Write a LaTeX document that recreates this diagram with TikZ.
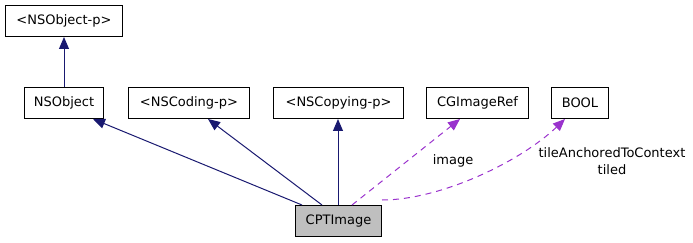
\documentclass[tikz,border=0pt]{standalone}
\usepackage{fontspec}
\setmainfont{DejaVu Sans}
\usetikzlibrary{arrows.meta}
\definecolor{edgeblue}{HTML}{191970}
\definecolor{edgepurple}{HTML}{9A32CD}
\definecolor{boxgray}{HTML}{BFBFBF}
\begin{document}
\begin{tikzpicture}[x=1pt,y=-1pt,
  txt/.style={font=\fontsize{13}{17.5}\selectfont},
  cls/.style={txt,draw=black,line width=1pt,fill=white,minimum height=31pt,inner sep=0pt,anchor=north west},
  inherit/.style={draw=edgeblue,line width=1pt,-{Triangle[length=12pt,width=10pt]}},
  uses/.style={draw=edgepurple,line width=1pt,dash pattern=on 6pt off 5pt,-{Triangle[length=12pt,width=10pt]}},
  lbl/.style={txt,align=center,inner sep=0pt}]
\useasboundingbox (0,0) rectangle (693,243);
\node[cls,minimum width=117pt] (nsobjp) at (5,5) {<NSObject-p>};
\node[cls,minimum width=79pt] (nsobj) at (24,87) {NSObject};
\node[cls,minimum width=121pt] (coding) at (128,87) {<NSCoding-p>};
\node[cls,minimum width=130pt] (copying) at (273,87) {<NSCopying-p>};
\node[cls,minimum width=102pt] (cgimg) at (426,87) {CGImageRef};
\node[cls,minimum width=57pt] (bool) at (551,87) {BOOL};
\node[cls,minimum width=86pt,fill=boxgray] (cpt) at (295,205) {CPTImage};
\draw[inherit] (nsobj.north) -- (nsobjp.south);
\draw[inherit] ([xshift=7pt]cpt.north west) -- ([xshift=69pt]nsobj.south west);
\draw[inherit] ([xshift=27pt]cpt.north west) -- ([xshift=80pt]coding.south west);
\draw[inherit] ([xshift=43pt]cpt.north west) -- ([xshift=65pt]copying.south west);
\draw[uses] ([xshift=57pt]cpt.north west) -- ([xshift=34pt]cgimg.south west);
\draw[uses] ([yshift=5pt]cpt.north east) .. controls (440,200) and (520,162) .. ([xshift=14pt]bool.south west);
\node[lbl] (limage) at (453,161) {image};
\node[lbl] (ltiled) at (612,161) {tileAnchoredToContext\\tiled};
\end{tikzpicture}
\end{document}
